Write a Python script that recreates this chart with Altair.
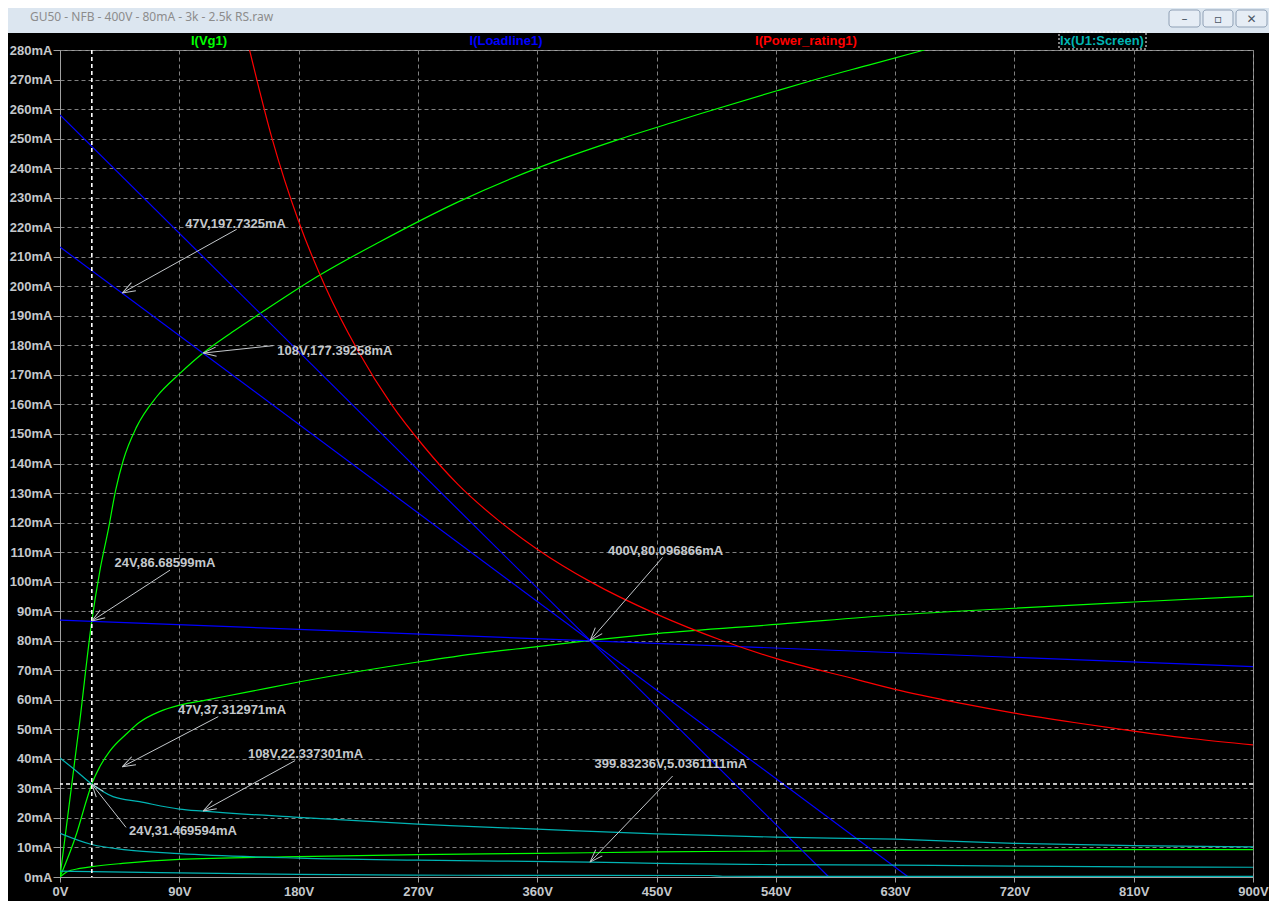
import math

import altair as alt
import pandas as pd

# --- traces (volts, milliamps) ---

# I(Vg1): three plate curves
vg1_a_v = [0, 15, 24, 30, 36.4, 42, 47.8, 57.8, 72.9, 90.5, 108, 130, 151, 196, 241, 300, 360, 420, 468, 483, 541.5, 566, 610, 652]
vg1_a_i = [0, 53, 86.7, 103.5, 117.5, 131, 141.2, 152.4, 162.6, 170.5, 177.4, 184.5, 190.8, 203.8, 215, 228.5, 240, 249.5, 256.3, 258.4, 266.3, 269.5, 274.9, 280]

vg1_b_v = [0, 12.6, 20, 24, 30, 37.7, 50, 60, 75, 90.5, 110, 140, 181, 270, 316.8, 360, 400, 450, 543, 630, 720, 810, 900]
vg1_b_i = [0, 14.8, 26, 31.47, 37.3, 42.7, 48.4, 52.4, 56, 58.2, 59.9, 62.5, 66.1, 72.8, 75.8, 78.0, 80.1, 82.4, 85.6, 88.7, 91.0, 93.1, 95.1]

vg1_c_v = [0, 5, 15, 24, 47, 90, 180, 270, 360, 450, 540, 630, 720, 810, 900]
vg1_c_i = [0, 1.7, 2.9, 3.5, 4.6, 6.0, 6.9, 7.6, 8.0, 8.5, 8.8, 9.0, 9.1, 9.3, 9.3]

# I(Loadline1): 2.25k, 3k and the flat line through the operating point
load_a_v = [0, 580]
load_a_i = [258, 0]
load_b_v = [0, 640]
load_b_i = [213.3, 0]
load_c_v = [0, 900]
load_c_i = [87.0, 71.2]

# I(Power_rating1)
power_v = [143, 160, 180, 200, 225, 250, 275, 300, 330, 360, 400, 450, 500, 540, 600, 630, 680, 720, 765, 810, 855, 900]
power_i = [280, 250, 222, 200, 178, 160, 145.5, 133, 121, 111, 100, 89, 80, 74, 67, 63.5, 58.8, 55.5, 52.3, 49.4, 46.8, 44.7]

# Ix(U1:Screen): three screen current curves
scr_a_v = [0, 12, 24, 40, 60, 90, 108, 180, 270, 294, 360, 450, 540, 630, 720, 810, 900]
scr_a_i = [40.3, 36.0, 31.47, 27.2, 25.5, 23.0, 22.3, 20.2, 17.9, 17.4, 16.2, 14.6, 13.5, 12.8, 11.4, 10.6, 10.2]

scr_b_v = [0, 24, 50, 90, 180, 270, 400, 450, 540, 630, 720, 810, 900]
scr_b_i = [14.8, 11.0, 9.2, 7.9, 6.4, 5.7, 5.04, 4.6, 4.2, 4.0, 3.7, 3.4, 3.3]

scr_c_v = [0, 24, 90, 180, 300, 490, 500, 900]
scr_c_i = [2.0, 1.8, 1.4, 0.9, 0.6, 0.5, 0.25, 0.2]

# cursors
cursor_v = 24
cursor_i = 31.469594

# annotations: label, point, arrow tail, text centre
ann_label = ["47V,197.7325mA", "108V,177.39258mA", "24V,86.68599mA", "400V,80.096866mA",
             "47V,37.312971mA", "108V,22.337301mA", "399.83236V,5.0361111mA", "24V,31.469594mA"]
ann_v = [47, 108, 24, 400, 47, 108, 399.83236, 24]
ann_i = [197.7325, 177.39258, 86.68599, 80.096866, 37.312971, 22.337301, 5.0361111, 31.469594]
ann_tail_v = [133.3, 160.9, 83.0, 454.6, 119.4, 177.3, 462.2, 49.8]
ann_tail_i = [219.3, 179.9, 103.9, 108.2, 54.3, 39.4, 34.2, 16.8]
ann_text_v = [132.4, 207.4, 79.2, 456.8, 129.8, 185.2, 460.8, 92.8]
ann_text_i = [221.2, 178.1, 106.3, 110.5, 56.4, 41.6, 38.2, 15.6]

series_names = ["I(Vg1)", "I(Loadline1)", "I(Power_rating1)", "Ix(U1:Screen)"]
series_colors = ["#00ff00", "#0000ff", "#ff0000", "#00b4b4"]

W, H = 1193, 827
LABEL = "#c4c8cc"
FONT = "Liberation Sans"

traces = [
    ("I(Vg1)", "a", vg1_a_v, vg1_a_i),
    ("I(Vg1)", "b", vg1_b_v, vg1_b_i),
    ("I(Vg1)", "c", vg1_c_v, vg1_c_i),
    ("I(Loadline1)", "a", load_a_v, load_a_i),
    ("I(Loadline1)", "b", load_b_v, load_b_i),
    ("I(Loadline1)", "c", load_c_v, load_c_i),
    ("I(Power_rating1)", "a", power_v, power_i),
    ("Ix(U1:Screen)", "a", scr_a_v, scr_a_i),
    ("Ix(U1:Screen)", "b", scr_b_v, scr_b_i),
    ("Ix(U1:Screen)", "c", scr_c_v, scr_c_i),
]
df = pd.concat(
    [pd.DataFrame({"series": s, "curve": s + c, "v": vs, "i": cur_i}) for s, c, vs, cur_i in traces],
    ignore_index=True,
)

ann = pd.DataFrame({
    "label": ann_label, "v": ann_v, "i": ann_i,
    "tv": ann_tail_v, "ti": ann_tail_i, "xv": ann_text_v, "xi": ann_text_i,
})
# arrowhead rotation, worked out in screen pixels
px_v, px_i = W / 900, H / 280
ann["ang"] = [
    math.degrees(math.atan2((v - tv) * px_v, (i - ti) * px_i)) % 360
    for v, i, tv, ti in zip(ann.v, ann.i, ann.tv, ann.ti)
]

x_scale = alt.Scale(domain=[0, 900], nice=False, zero=False)
y_scale = alt.Scale(domain=[0, 280], nice=False, zero=False)
x_axis = alt.Axis(values=list(range(0, 901, 90)), labelExpr="datum.value + 'V'", title=None,
                  tickSize=5, labelPadding=3, labelFlush=False, labelOverlap=False)
y_axis = alt.Axis(values=list(range(0, 281, 10)), labelExpr="datum.value + 'mA'", title=None,
                  tickSize=7, labelPadding=1, labelFlush=False, labelOverlap=False)

lines = alt.Chart(df).mark_line(strokeWidth=1.2, clip=True, interpolate="monotone").encode(
    x=alt.X("v:Q", scale=x_scale, axis=x_axis),
    y=alt.Y("i:Q", scale=y_scale, axis=y_axis),
    color=alt.Color("series:N", scale=alt.Scale(domain=series_names, range=series_colors), legend=None),
    detail="curve:N",
)

cur = pd.DataFrame({"v": [cursor_v], "i": [cursor_i]})
cursor_x = alt.Chart(cur).mark_rule(color="white", strokeDash=[4, 3], strokeWidth=1.6).encode(
    x=alt.X("v:Q", scale=x_scale, axis=x_axis))
cursor_y = alt.Chart(cur).mark_rule(color="white", strokeDash=[4, 3], strokeWidth=1.6).encode(
    y=alt.Y("i:Q", scale=y_scale, axis=y_axis))

arrows = alt.Chart(ann).mark_rule(color=LABEL, strokeWidth=1).encode(
    x=alt.X("tv:Q", scale=x_scale, axis=x_axis), y=alt.Y("ti:Q", scale=y_scale, axis=y_axis),
    x2="v:Q", y2="i:Q",
)
heads = alt.Chart(ann).mark_point(
    shape="M0,0L-0.35,1M0,0L0.35,1", filled=False, size=676, color=LABEL, strokeWidth=1, opacity=1
).encode(
    x=alt.X("v:Q", scale=x_scale, axis=x_axis), y=alt.Y("i:Q", scale=y_scale, axis=y_axis),
    angle=alt.Angle("ang:Q", scale=None),
)
texts = alt.Chart(ann).mark_text(font=FONT, fontWeight="bold", fontSize=13, color=LABEL).encode(
    x=alt.X("xv:Q", scale=x_scale, axis=x_axis), y=alt.Y("xi:Q", scale=y_scale, axis=y_axis),
    text="label:N",
)

one = pd.DataFrame({"k": [0]})

# window chrome
title_bar = alt.Chart(one).mark_rect(color="#dce6f0").encode(
    x=alt.value(-52), x2=alt.value(W + 16), y=alt.value(-42), y2=alt.value(-17))
title_txt = alt.Chart(one).mark_text(
    text="GU50 - NFB - 400V - 80mA - 3k - 2.5k RS.raw", font="Noto Sans", fontSize=12,
    color="#8c8c8c", align="left", baseline="middle",
).encode(x=alt.value(-30), y=alt.value(-33))

chrome = [title_bar, title_txt]
for x0, x1, glyph in [(1109, 1140, "–"), (1143, 1173, "▫"), (1176, 1207, "✕")]:
    chrome.append(alt.Chart(one).mark_rect(fill="#e6edf5", stroke="#8fa0b5", cornerRadius=3).encode(
        x=alt.value(x0), x2=alt.value(x1), y=alt.value(-40), y2=alt.value(-23)))
    chrome.append(alt.Chart(one).mark_text(text=glyph, fontSize=12, color="#4a5563", font="DejaVu Sans").encode(
        x=alt.value((x0 + x1) / 2), y=alt.value(-31)))

# trace names across the top
legend = []
for name, color, cx in zip(series_names, series_colors, [149, 446, 746, 1042]):
    legend.append(alt.Chart(one).mark_text(
        text=name, font=FONT, fontWeight="bold", fontSize=13, color=color, baseline="middle"
    ).encode(x=alt.value(cx), y=alt.value(-9)))
legend.append(alt.Chart(one).mark_rect(fill=None, stroke="white", strokeDash=[2, 2], strokeWidth=1).encode(
    x=alt.value(999), x2=alt.value(1086), y=alt.value(-18), y2=alt.value(-1)))

chart = alt.layer(
    lines, cursor_x, cursor_y, arrows, heads, texts, *chrome, *legend
).properties(
    width=W, height=H,
    autosize=alt.AutoSizeParams(type="none"),
    padding={"left": 52, "top": 42, "right": 16, "bottom": 24},
    background="black",
).configure_view(
    stroke="#a0a0a0", fill="black"
).configure_axis(
    grid=True, gridColor="#808080", gridDash=[4, 3], gridOpacity=1, gridWidth=1,
    domainColor="#a0a0a0", tickColor="#a0a0a0",
    labelColor=LABEL, labelFont=FONT, labelFontWeight="bold", labelFontSize=13,
)

chart.save("out.html", embed_options={"renderer": "svg", "actions": False})
